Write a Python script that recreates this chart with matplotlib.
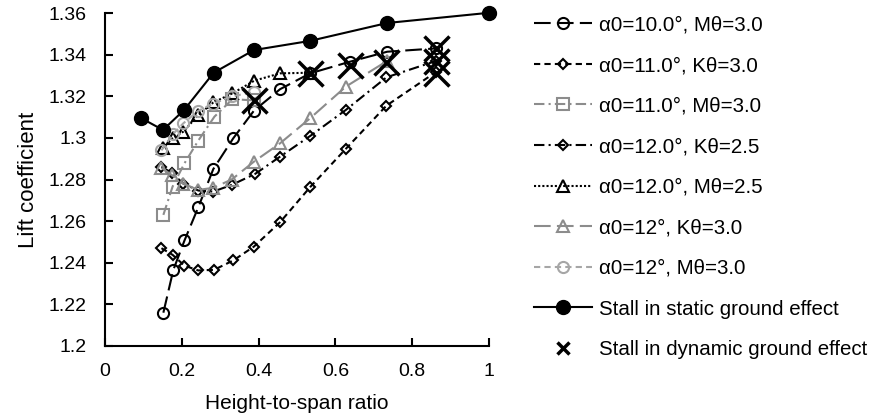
import matplotlib
matplotlib.use("Agg")
import matplotlib.pyplot as plt
from matplotlib.lines import Line2D

plt.rcParams['font.family'] = ['Liberation Sans', 'DejaVu Sans']

# alpha0=10.0, M=3.0
x_a10_m30 = [0.152, 0.178, 0.207, 0.243, 0.282, 0.334, 0.388, 0.456, 0.534, 0.638, 0.735, 0.863]
y_a10_m30 = [1.216, 1.2366, 1.2507, 1.2667, 1.285, 1.2998, 1.3131, 1.3234, 1.331, 1.3366, 1.3414, 1.343]
# alpha0=11.0, K=3.0
x_a11_k30 = [0.147, 0.176, 0.207, 0.243, 0.284, 0.334, 0.388, 0.456, 0.534, 0.627, 0.733, 0.863]
y_a11_k30 = [1.247, 1.2438, 1.2386, 1.2363, 1.2366, 1.2411, 1.2478, 1.2595, 1.2763, 1.2947, 1.3155, 1.3318]
# alpha0=11.0, M=3.0
x_a11_m30 = [0.152, 0.176, 0.207, 0.243, 0.285, 0.332, 0.388]
y_a11_m30 = [1.263, 1.2766, 1.2878, 1.2987, 1.3102, 1.3186, 1.318]
# alpha0=12.0, K=2.5
x_a12_k25 = [0.147, 0.175, 0.204, 0.243, 0.282, 0.330, 0.391, 0.456, 0.535, 0.627, 0.733, 0.863]
y_a12_k25 = [1.2862, 1.283, 1.278, 1.2747, 1.2742, 1.2774, 1.2827, 1.291, 1.301, 1.3134, 1.3291, 1.337]
# alpha0=12.0, M=2.5
x_a12_m25 = [0.150, 0.176, 0.204, 0.243, 0.282, 0.332, 0.389, 0.456, 0.534]
y_a12_m25 = [1.295, 1.2998, 1.303, 1.311, 1.317, 1.3214, 1.3275, 1.331, 1.3313]
# alpha0=12, K=3.0
x_a12_k30 = [0.147, 0.175, 0.204, 0.243, 0.282, 0.330, 0.388, 0.456, 0.534, 0.627, 0.735]
y_a12_k30 = [1.2856, 1.282, 1.278, 1.275, 1.276, 1.280, 1.2886, 1.2974, 1.3094, 1.3246, 1.337]
# alpha0=12, M=3.0
x_a12_m30 = [0.147, 0.178, 0.204, 0.243, 0.282, 0.332, 0.388]
y_a12_m30 = [1.294, 1.302, 1.307, 1.313, 1.3165, 1.320, 1.322]
# stall in static ground effect
x_static = [0.094, 0.151, 0.206, 0.283, 0.388, 0.534, 0.735, 1.0]
y_static = [1.3095, 1.3038, 1.3134, 1.3313, 1.3422, 1.3466, 1.3552, 1.3601]
# stall in dynamic ground effect
x_dynamic = [0.388, 0.534, 0.638, 0.733, 0.863, 0.863, 0.863]
y_dynamic = [1.318, 1.3313, 1.335, 1.3366, 1.343, 1.337, 1.331]

labels = ['α0=10.0°, Mθ=3.0', 'α0=11.0°, Kθ=3.0', 'α0=11.0°, Mθ=3.0',
          'α0=12.0°, Kθ=2.5', 'α0=12.0°, Mθ=2.5', 'α0=12°, Kθ=3.0',
          'α0=12°, Mθ=3.0', 'Stall in static ground effect',
          'Stall in dynamic ground effect']

g1 = '#8c8c8c'
g2 = '#a6a6a6'

fig = plt.figure(figsize=(8.75, 4.18), dpi=100)
ax = fig.add_axes([105 / 875, 1 - 346 / 418, 384 / 875, 333 / 418])

series = [
    (x_a10_m30, y_a10_m30, 'k', 'o', (0, (8, 3)), 8, 1.5),
    (x_a11_k30, y_a11_k30, 'k', 'D', (0, (3, 2)), 5.5, 1.5),
    (x_a11_m30, y_a11_m30, g1, 's', (0, (5, 2, 1, 2)), 8, 1.5),
    (x_a12_k25, y_a12_k25, 'k', 'D', (0, (5, 2, 1, 2)), 5.5, 1.5),
    (x_a12_m25, y_a12_m25, 'k', '^', (0, (1, 1)), 8, 1.5),
    (x_a12_k30, y_a12_k30, g1, '^', (0, (8, 3)), 8, 1.5),
    (x_a12_m30, y_a12_m30, g2, 'o', (0, (3, 2)), 8, 1.5),
]
handles = []
for (xs, ys, c, m, ls, ms, lw), lab in zip(series, labels):
    h, = ax.plot(xs, ys, color=c, marker=m, linestyle=ls, linewidth=lw,
                 markersize=ms, markerfacecolor='none', markeredgecolor=c,
                 markeredgewidth=1.5, label=lab)
    handles.append(h)

h, = ax.plot(x_static, y_static, color='k', marker='o', linestyle='-',
             linewidth=1.5, markersize=10, label=labels[7], clip_on=False)
handles.append(h)
ax.plot(x_dynamic, y_dynamic, color='k', marker='x', linestyle='none',
        markersize=18, markeredgewidth=2.5)
handles.append(Line2D([], [], color='k', marker='x', linestyle='none',
                      markersize=8, markeredgewidth=2.5, label=labels[8]))

ax.set_xlim(0, 1)
ax.set_ylim(1.2, 1.36)
ax.set_xticks([0, 0.2, 0.4, 0.6, 0.8, 1])
ax.set_xticklabels(['0', '0.2', '0.4', '0.6', '0.8', '1'])
ax.set_yticks([1.2, 1.22, 1.24, 1.26, 1.28, 1.3, 1.32, 1.34, 1.36])
ax.set_yticklabels(['1.2', '1.22', '1.24', '1.26', '1.28', '1.3', '1.32', '1.34', '1.36'])
ax.tick_params(direction='in', length=6, width=1.5, labelsize=14)
ax.tick_params(axis='x', pad=12)
ax.tick_params(axis='y', pad=13)
for s in ['top', 'right']:
    ax.spines[s].set_visible(False)
for s in ['left', 'bottom']:
    ax.spines[s].set_linewidth(1.5)
ax.set_xlabel('Height-to-span ratio', fontsize=15, labelpad=10)
ax.set_ylabel('Lift coefficient', fontsize=16, labelpad=7)

fig.legend(handles=handles, loc='upper left', bbox_to_anchor=(515 / 875, 1 + 3 / 418),
           frameon=False, fontsize=14.8, handlelength=2.85, handletextpad=0.35,
           labelspacing=1.05, numpoints=1)

fig.savefig('out.png', dpi=100)
